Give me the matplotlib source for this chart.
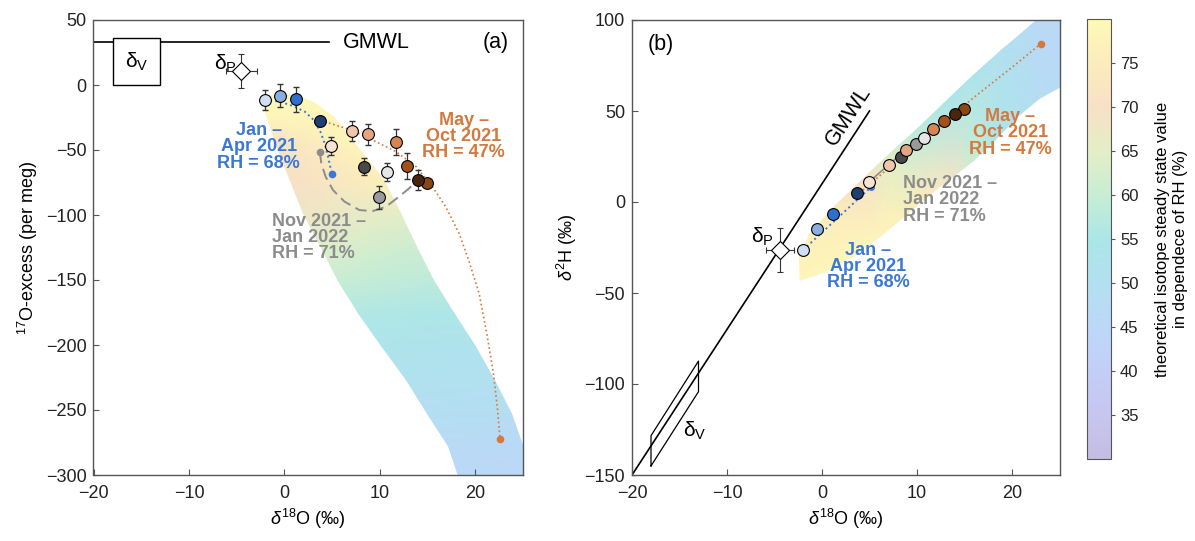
import numpy as np
import matplotlib
matplotlib.use('Agg')
import matplotlib.pyplot as plt
from matplotlib.colors import LinearSegmentedColormap

plt.rcParams['font.family'] = ['Liberation Sans', 'DejaVu Sans']
plt.rcParams['mathtext.fontset'] = 'custom'
plt.rcParams['mathtext.rm'] = 'Liberation Sans'
plt.rcParams['mathtext.it'] = 'Liberation Sans:italic'
plt.rcParams['mathtext.bf'] = 'Liberation Sans:bold'

# measured monthly means (Jan 2021 - Jan 2022)
d18O = [-2.0, -0.5, 1.2, 3.7, 4.9, 7.1, 8.3, 8.8, 9.9, 10.7, 11.7, 12.8, 14.9, 14.0]
o17x = [-11.5, -8.2, -10.8, -27.4, -46.7, -35.4, -62.8, -37.9, -86.4, -66.7, -43.6, -62.3, -75.1, -73.1]
o17x_err = [8, 9, 9.6, 0, 7, 8, 6.4, 8, 9, 7, 10, 10, 0, 7.5]
d2H = [-26.4, -15.0, -6.8, 4.9, 10.8, 20.3, 24.6, 28.6, 31.7, 35.0, 40.0, 44.5, 50.9, 48.2]
pt_colors = ['#d0e0f4', '#8aaee0', '#2f6fcf', '#1f3f72', '#f6e3d6', '#f0c6aa', '#4a4a4a',
             '#e3a682', '#9a9a9a', '#e6e6e6', '#d98552', '#a54f1c', '#8c4516', '#4a250e']

# precipitation / vapour
dP_a = (-4.5, 10.8, 1.6, 13)
dP_b = (-4.4, -26.4, 1.5, 12)
dV_box_x = [-18, -13, -13, -18, -18]
dV_box_y = [0, 0, 36, 36, 0]
dV_par_x = [-18, -13, -13, -18, -18]
dV_par_y = [-145, -104.2, -87.4, -128.4, -145]
gmwl_x_a = [-20, 4.7]
gmwl_y_a = [33, 33]
gmwl_x_b = [-20, 5]
gmwl_y_b = [-150, 50]

# steady state cloud (a): rows of constant 17O-excess, left/right edge and RH
cloud_a_y = [-8, -15, -25, -47, -73, -99, -124, -150, -176, -201, -227, -253, -278, -300]
cloud_a_xl = [-1.5, -2.2, -1.8, -0.8, 0.6, 2.0, 3.8, 5.6, 7.8, 10.2, 12.8, 15.0, 17.2, 18.2]
cloud_a_xr = [1.5, 3.4, 5.2, 7.6, 10.4, 12.2, 13.8, 15.6, 17.8, 20.0, 22.0, 23.8, 25.0, 25.0]
cloud_a_rhl = [79, 79, 78, 71, 70, 68, 64, 60, 56, 53, 51, 49, 47, 46]
cloud_a_rhr = [79, 79, 79, 78, 76, 65, 61, 58, 55, 52, 50, 48, 46, 45]

# steady state cloud (b): lower / upper edges and RH
cloud_b_xl = [-2.3, 0.5, 3.3, 6.1, 8.4, 11.2, 13.8, 16.0, 18.2, 20.6, 22.9, 25.0]
cloud_b_yl = [-43, -38, -30, -19, -9, 3.5, 14, 23, 34, 47, 57, 63]
cloud_b_xu = [-2.4, -1.2, 1.2, 4.0, 6.8, 9.8, 12.8, 15.8, 18.8, 21.3, 22.6, 25.0]
cloud_b_yu = [-30, -17, -3, 11, 25, 39, 54, 69, 83, 94, 100, 100]
cloud_b_rhl = [78, 79, 79, 78, 77, 74, 68, 60, 55, 51, 48, 47]
cloud_b_rhu = [78, 76, 74, 70, 64, 58, 55, 53, 50, 48, 46, 45]

# model trajectories
jan_x_a = [-2.03, -0.47, 0.92, 2.14, 3.07, 3.77, 4.22, 4.57, 4.98]
jan_y_a = [-11.5, -12.8, -16.2, -20.5, -26.9, -35.9, -44.9, -55.1, -68.5]
may_x_a = [4.22, 7.0, 9.25, 11.7, 13.8, 15.5, 16.9, 18.3, 19.3, 20.4, 21.2, 21.9, 22.3, 22.6]
may_y_a = [-28.2, -34.6, -42.3, -51.3, -62.8, -78.2, -93.6, -114.1, -134.6, -160.3, -191, -221.8, -247.4, -272.6]
nov_x_a = [3.7, 3.87, 4.32, 5.09, 6.3, 7.86, 9.25, 10.65, 12.0, 13.07, 13.77]
nov_y_a = [-51.3, -60.3, -70.5, -80.8, -89.7, -96.2, -97.0, -93.6, -85.9, -79.5, -74.4]
jan_x_b = [-2.0, 1.5, 5.2]
jan_y_b = [-26.4, -9.5, 8.4]
may_x_b = [4.3, 8.0, 12.0, 16.0, 20.0, 23.0]
may_y_b = [6.5, 23.0, 40.5, 57.5, 74.0, 86.8]
nov_x_b = [4.9, 9.0, 14.5]
nov_y_b = [10.8, 29.5, 50.0]

cb_ticks = [35, 40, 45, 50, 55, 60, 65, 70, 75]

c_blue = '#3b78d4'
c_orange = '#d4793d'
c_gray = '#8c8c8c'

cmap = LinearSegmentedColormap.from_list('rh', [
    (0.0, '#c5bde2'), (0.1, '#c6c6f0'), (0.2, '#c3cef8'), (0.3, '#bcd8f8'),
    (0.4, '#b2e0f0'), (0.5, '#abe6e8'), (0.6, '#c8edd4'), (0.7, '#e4eec6'),
    (0.8, '#f8e0c6'), (0.9, '#fcecbc'), (1.0, '#fdf9b8')])

fig = plt.figure(figsize=(11.95, 5.41), dpi=100)
ax1 = fig.add_axes([93.5/1195, 1-475/541, (523-93.5)/1195, 455/541])
ax2 = fig.add_axes([632/1195, 1-475/541, (1059.5-632)/1195, 455/541])
cax = fig.add_axes([1087/1195, 1-459/541, 24/1195, 440/541])

fs = 13
bold = dict(fontsize=13, fontweight='bold', linespacing=0.95)

# ---- panel a
X = np.column_stack([cloud_a_xl, cloud_a_xr])
Y = np.column_stack([cloud_a_y, cloud_a_y])
C = np.column_stack([cloud_a_rhl, cloud_a_rhr])
mesh = ax1.pcolormesh(X, Y, C, shading='gouraud', cmap=cmap, vmin=30, vmax=80, zorder=1)

ax1.plot(gmwl_x_a, gmwl_y_a, color='k', lw=1.2, zorder=2)
ax1.fill(dV_box_x, dV_box_y, facecolor='white', edgecolor='k', lw=1.0, zorder=3)
ax1.text(-15.5, 13, 'δ$_\\mathrm{V}$', fontsize=15, ha='center', va='baseline', zorder=4)
ax1.text(6.1, 33, 'GMWL', fontsize=15.5, ha='left', va='center')
ax1.text(22.1, 32.5, '(a)', fontsize=15.5, ha='center', va='center')

ax1.errorbar(dP_a[0], dP_a[1], xerr=dP_a[2], yerr=dP_a[3], fmt='D', ms=9, mfc='white',
             mec='k', mew=0.8, ecolor='#333333', elinewidth=0.8, capsize=2.5, zorder=5)
ax1.text(-5.0, 11.5, 'δ$_\\mathrm{P}$', fontsize=15, ha='right', va='baseline')

ax1.plot(jan_x_a, jan_y_a, ls=':', color=c_blue, lw=1.4, zorder=3)
ax1.plot(jan_x_a[-1], jan_y_a[-1], 'o', color=c_blue, ms=4.5, zorder=3)
ax1.plot(may_x_a, may_y_a, ls=':', color=c_orange, lw=1.2, zorder=3)
ax1.plot(may_x_a[-1], may_y_a[-1], 'o', color=c_orange, ms=4.5, zorder=3)
ax1.plot(nov_x_a, nov_y_a, ls=(0, (6, 3)), color=c_gray, lw=1.4, zorder=3)
ax1.plot(nov_x_a[0], nov_y_a[0], 'o', color=c_gray, ms=4.5, zorder=3)

for i in range(len(d18O)):
    if o17x_err[i] > 0:
        ax1.errorbar(d18O[i], o17x[i], yerr=o17x_err[i], fmt='none', ecolor='#333333',
                     elinewidth=0.9, capsize=2.5, zorder=4)
    ax1.plot(d18O[i], o17x[i], 'o', ms=8.5, mfc=pt_colors[i], mec='k', mew=0.8, zorder=5)

ax1.text(-2.7, -47.5, 'Jan –\nApr 2021\nRH = 68%', color=c_blue, ha='center', va='center',
         multialignment='center', **bold)
ax1.text(18.8, -39.7, 'May –\nOct 2021\nRH = 47%', color=c_orange, ha='center', va='center',
         multialignment='center', **bold)
ax1.text(-1.3, -117.2, 'Nov 2021 –\nJan 2022\nRH = 71%', color=c_gray, ha='left', va='center',
         multialignment='left', **bold)

ax1.set_xlim(-20, 25)
ax1.set_ylim(-300, 50)
ax1.set_xticks([-20, -10, 0, 10, 20])
ax1.set_yticks(np.arange(-300, 51, 50))
ax1.set_xlabel(r'$\mathit{\delta}^{18}$O (‰)', fontsize=fs)
ax1.set_ylabel(r'$^{17}$O-excess (per meg)', fontsize=fs)

# ---- panel b
X = np.column_stack([cloud_b_xl, cloud_b_xu])
Y = np.column_stack([cloud_b_yl, cloud_b_yu])
C = np.column_stack([cloud_b_rhl, cloud_b_rhu])
ax2.pcolormesh(X, Y, C, shading='gouraud', cmap=cmap, vmin=30, vmax=80, zorder=1)

ax2.plot(gmwl_x_b, gmwl_y_b, color='k', lw=1.2, zorder=2)
ax2.plot(dV_par_x, dV_par_y, color='k', lw=0.9, zorder=2)
ax2.text(-14.6, -129, 'δ$_\\mathrm{V}$', fontsize=15, ha='left', va='baseline')
ax2.text(2.8, 47, 'GMWL', fontsize=15.5, ha='center', va='center', rotation=57)
ax2.text(-17.0, 86.3, '(b)', fontsize=15.5, ha='center', va='center')

ax2.errorbar(dP_b[0], dP_b[1], xerr=dP_b[2], yerr=dP_b[3], fmt='D', ms=9, mfc='white',
             mec='k', mew=0.8, ecolor='#333333', elinewidth=0.8, capsize=2.5, zorder=5)
ax2.text(-5.1, -22.5, 'δ$_\\mathrm{P}$', fontsize=15, ha='right', va='baseline')

ax2.plot(jan_x_b, jan_y_b, ls=':', color=c_blue, lw=1.4, zorder=3)
ax2.plot(jan_x_b[-1], jan_y_b[-1], 'o', color=c_blue, ms=4, zorder=3)
ax2.plot(may_x_b, may_y_b, ls=':', color=c_orange, lw=1.2, zorder=3)
ax2.plot(may_x_b[-1], may_y_b[-1], 'o', color=c_orange, ms=4.5, zorder=3)
ax2.plot(nov_x_b, nov_y_b, ls='-', color=c_gray, lw=1.2, zorder=3)

for i in range(len(d18O)):
    ax2.plot(d18O[i], d2H[i], 'o', ms=8.5, mfc=pt_colors[i], mec='k', mew=0.8, zorder=5)

ax2.text(4.84, -35.5, 'Jan –\nApr 2021\nRH = 68%', color=c_blue, ha='center', va='center',
         multialignment='center', **bold)
ax2.text(19.8, 38.1, 'May –\nOct 2021\nRH = 47%', color=c_orange, ha='center', va='center',
         multialignment='center', **bold)
ax2.text(8.5, 1.1, 'Nov 2021 –\nJan 2022\nRH = 71%', color=c_gray, ha='left', va='center',
         multialignment='left', **bold)

ax2.set_xlim(-20, 25)
ax2.set_ylim(-150, 100)
ax2.set_xticks([-20, -10, 0, 10, 20])
ax2.set_yticks(np.arange(-150, 101, 50))
ax2.set_xlabel(r'$\mathit{\delta}^{18}$O (‰)', fontsize=fs)
ax2.set_ylabel(r'$\mathit{\delta}^{2}$H (‰)', fontsize=fs)

for ax in (ax1, ax2):
    for s in ax.spines.values():
        s.set_color('#555555')
        s.set_linewidth(1.0)
    ax.tick_params(direction='in', length=4, labelsize=fs, colors='#555555',
                   labelcolor='#222222', top=False, right=False)
    ax.tick_params(axis='x', pad=7)
    ax.tick_params(axis='y', pad=5)

cb = fig.colorbar(mesh, cax=cax)
cb.set_ticks(cb_ticks)
cb.ax.tick_params(labelsize=12, length=3, colors='#555555', labelcolor='#222222')
cb.outline.set_edgecolor('#555555')
cb.set_label('theoretical isotope steady state value\nin dependece of RH (%)', fontsize=12,
             labelpad=12)

fig.savefig('out.png', dpi=100)
